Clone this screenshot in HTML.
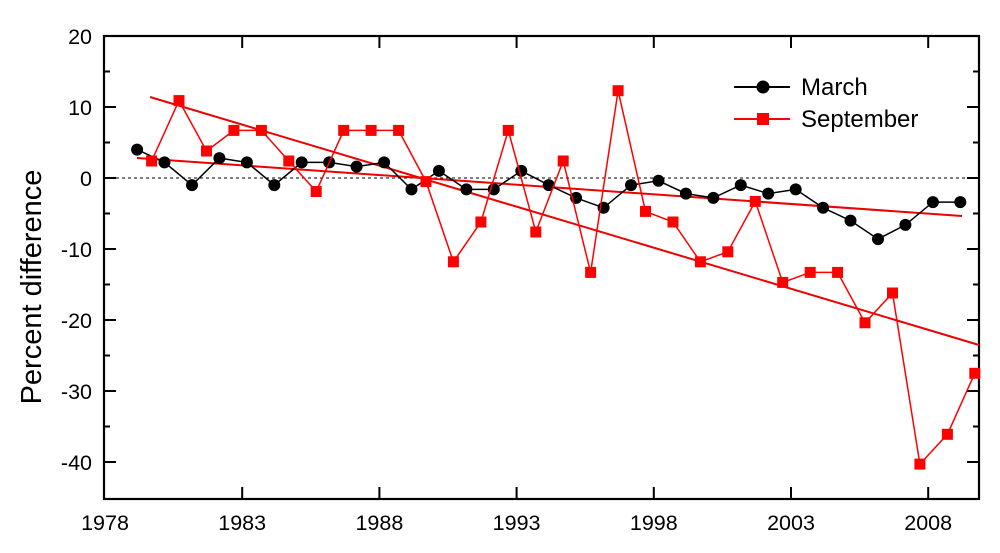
<!DOCTYPE html>
<html><head><meta charset="utf-8"><style>body{margin:0;background:#fff}svg{display:block}text{font-family:"Liberation Sans",Arial,sans-serif}</style></head><body>
<svg width="1000" height="553" viewBox="0 0 1000 553" xmlns="http://www.w3.org/2000/svg">
<defs>
<marker id="c" markerUnits="userSpaceOnUse" markerWidth="14" markerHeight="14" refX="7" refY="7" overflow="visible"><circle cx="7" cy="7" r="6" fill="#000"/></marker>
<marker id="s" markerUnits="userSpaceOnUse" markerWidth="14" markerHeight="14" refX="7" refY="7" overflow="visible"><rect x="1.5" y="1.5" width="11" height="11" fill="#f00"/></marker>
</defs>
<line x1="104" y1="178" x2="979" y2="178" stroke="#000" stroke-width="1" stroke-dasharray="3,3"/>
<rect x="104" y="36" width="875" height="463" fill="none" stroke="#000" stroke-width="2.2"/>
<path d="M242.2 499v-12M379.4 499v-12M516.6 499v-12M653.8 499v-12M791 499v-12M928.2 499v-12M242.2 36v12M379.4 36v12M516.6 36v12M653.8 36v12M791 36v12M928.2 36v12" stroke="#000" stroke-width="2"/>
<path d="M104 107h12M104 178h12M104 249h12M104 320h12M104 391h12M104 462h12M979 107h-12M979 178h-12M979 249h-12M979 320h-12M979 391h-12M979 462h-12" stroke="#000" stroke-width="2"/>
<path d="M104 71.5h6M104 142.5h6M104 213.5h6M104 284.5h6M104 355.5h6M104 426.5h6M979 71.5h-6M979 142.5h-6M979 213.5h-6M979 284.5h-6M979 355.5h-6M979 426.5h-6" stroke="#000" stroke-width="2"/>
<g font-size="21.5" text-anchor="end">
<text x="92" y="44">20</text><text x="92" y="115">10</text><text x="92" y="186">0</text><text x="92" y="257">-10</text><text x="92" y="328">-20</text><text x="92" y="399">-30</text><text x="92" y="470">-40</text>
</g>
<g font-size="21.5" text-anchor="middle">
<text x="105" y="530">1978</text><text x="242.2" y="530">1983</text><text x="379.4" y="530">1988</text><text x="516.6" y="530">1993</text><text x="653.8" y="530">1998</text><text x="791" y="530">2003</text><text x="928.2" y="530">2008</text>
</g>
<text transform="translate(41,287) rotate(-90)" font-size="29" text-anchor="middle">Percent difference</text>
<line x1="137" y1="158" x2="962" y2="216" stroke="#e00" stroke-width="2"/>
<line x1="150" y1="97" x2="979" y2="345" stroke="#e00" stroke-width="2"/>
<polyline fill="none" stroke="#000" stroke-width="1.5" marker-start="url(#c)" marker-mid="url(#c)" marker-end="url(#c)" points="137.1,149.6 164.5,162.4 192.0,185.1 219.4,158.1 246.9,162.4 274.3,185.1 301.7,162.4 329.2,162.4 356.6,166.6 384.1,162.4 411.5,189.4 438.9,170.9 466.4,189.4 493.8,189.4 521.3,170.9 548.7,185.1 576.1,197.9 603.6,207.8 631.0,185.1 658.5,180.8 685.9,193.6 713.3,197.9 740.8,185.1 768.2,193.6 795.7,189.4 823.1,207.8 850.5,220.6 878.0,239.1 905.4,224.9 932.9,202.1 960.3,202.1"/>
<polyline fill="none" stroke="#f00" stroke-width="1.5" marker-start="url(#s)" marker-mid="url(#s)" marker-end="url(#s)" points="151.6,161.0 179.0,100.6 206.5,151.0 233.9,130.4 261.4,130.4 288.8,161.0 316.2,191.5 343.7,130.4 371.1,130.4 398.6,130.4 426.0,181.6 453.4,261.8 480.9,222.0 508.3,130.4 535.8,232.0 563.2,161.0 590.6,272.4 618.1,90.7 645.5,211.4 673.0,222.0 700.4,261.8 727.8,251.8 755.3,201.4 782.7,282.4 810.2,272.4 837.6,272.4 865.0,322.8 892.5,293.0 919.9,464.1 947.4,434.3 974.8,373.3"/>
<line x1="734" y1="87" x2="790" y2="87" stroke="#000" stroke-width="2"/><circle cx="763" cy="87" r="6.5" fill="#000"/><text x="801" y="95" font-size="24">March</text>
<line x1="734" y1="119" x2="790" y2="119" stroke="#f00" stroke-width="2"/><rect x="757" y="113" width="12" height="12" fill="#f00"/><text x="801" y="127" font-size="24">September</text>
</svg>
</body></html>
